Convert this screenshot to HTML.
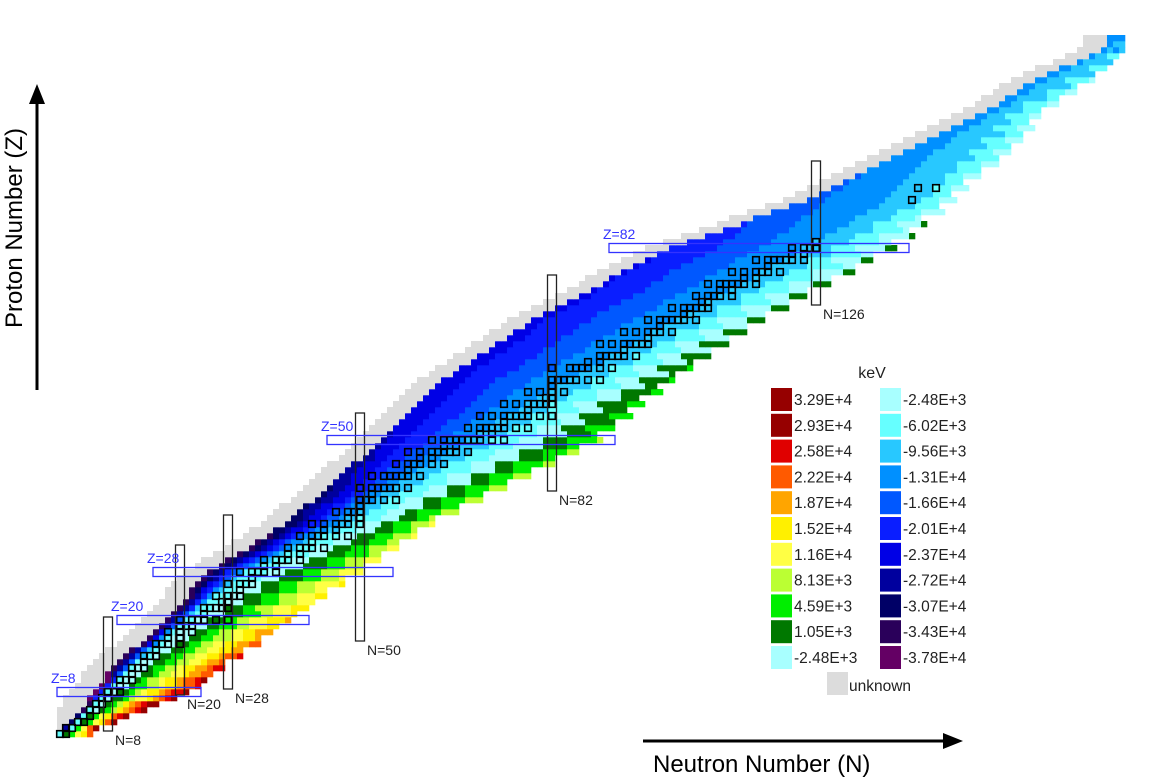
<!DOCTYPE html>
<html><head><meta charset="utf-8"><style>
html,body{margin:0;padding:0;background:#fff;width:1149px;height:777px;overflow:hidden}
svg{display:block;font-family:"Liberation Sans",sans-serif}
</style></head><body>
<svg id="chart" width="1149" height="777" viewBox="0 0 1149 777">
<g id="bandfills"></g><g id="cells"></g><g id="stable"></g><g id="bands"></g>
<g id="axes">
<line x1="37" y1="390" x2="37" y2="100" stroke="#000" stroke-width="3"/>
<polygon points="37,84 29,104 45,104" fill="#000"/>
<text transform="translate(22,228) rotate(-90)" text-anchor="middle" font-size="24" fill="#000">Proton Number (Z)</text>
<line x1="643" y1="741" x2="946" y2="741" stroke="#000" stroke-width="3"/>
<polygon points="963,741 943,733 943,749" fill="#000"/>
<text x="653" y="772" font-size="24" fill="#000">Neutron Number (N)</text>
</g>
<g id="legend"></g>
</svg>
<script>
const zAnch =  [1,2,5,8,12,20,28,36,50,60,70,82,90,100,105,110,115,117];
const nMinA =  [0,1,4,6,9,18,25,38,54,64,79,102,125,145,155,163,174,175];
const nMaxA =  [5,6,14,21,27,38,50,62,90,102,117,139,149,160,164,172,177,177];
const nStabA = [0,2,5,8,12,21,31,47,68,84,102,124,142,152,158,166,175,176];
const vLeftA = [-2e4,-2.5e4,-3.2e4,-3.6e4,-3.4e4,-3.4e4,-3.4e4,-3e4,-2.4e4,-2.2e4,-2.1e4,-2.0e4,-1.4e4,-1.2e4,-1.15e4,-1.1e4,-1.05e4,-1.05e4];
const vStabA = [-4e3,-4e3,-4e3,-4e3,-4e3,-4.5e3,-6e3,-7.5e3,-9.5e3,-1e4,-1e4,-9.5e3,-8e3,-7e3,-7e3,-7.5e3,-9e3,-1e4];
const vRightA= [2.5e4,3e4,3.3e4,3e4,2.6e4,1.8e4,1.3e4,1e4,7e3,3.5e3,1.5e3,0,-1.5e3,-3e3,-3e3,-4e3,-8e3,-9e3];
const oddZTrim = [0,0,0,0,1,1,2,2,2,2,2,2,2,1,1,1,0,0];
const stableList = {1:[0,1],2:[1,2],3:[3,4],4:[5],5:[5,6],6:[6,7],7:[7,8],8:[8,9,10],9:[10],10:[10,11,12],11:[12],12:[12,13,14],13:[14],14:[14,15,16],15:[16],16:[16,17,18,20],17:[18,20],18:[18,20,22],19:[20,21,22],20:[20,22,23,24,26,28],21:[24],22:[24,25,26,27,28],23:[27,28],24:[26,28,29,30],25:[30],26:[28,30,31,32],27:[32],28:[30,32,33,34,36],29:[34,36],30:[34,36,37,38,40],31:[38,40],32:[38,40,41,42,44],33:[42],34:[40,42,43,44,46,48],35:[44,46],36:[42,44,46,47,48,50],37:[48,50],38:[46,48,49,50],39:[50],40:[50,51,52,54,56],41:[52],42:[50,52,53,54,55,56,58],44:[52,54,55,56,57,58,60],45:[58],46:[56,58,59,60,62,64],47:[60,62],48:[58,60,62,63,64,65,66,68],49:[64,66],50:[62,64,65,66,67,68,69,70,72,74],51:[70,72],52:[68,70,71,72,73,74,76,78],53:[74],54:[70,72,74,75,76,77,78,80,82],55:[78],56:[74,76,78,79,80,81,82],57:[81,82],58:[78,80,82,84],59:[82],60:[82,83,84,85,86,88,90],62:[82,85,86,87,88,90,92],63:[88,90],64:[90,91,92,93,94,96],65:[94],66:[90,92,94,95,96,97,98],67:[98],68:[94,96,98,99,100,102],69:[100],70:[98,100,101,102,103,104,106],71:[104,105],72:[102,104,105,106,107,108],73:[107,108],74:[106,108,109,110,112],75:[110,112],76:[108,110,111,112,113,114,116],77:[114,116],78:[112,114,116,117,118,120],79:[118],80:[116,118,119,120,121,122,124],81:[122,124],82:[122,124,125,126],83:[126],90:[142],92:[143,146]};
const legThr = [3.29e4,2.93e4,2.58e4,2.22e4,1.87e4,1.52e4,1.16e4,8.13e3,4.59e3,1.05e3,-2.48e3,-6.02e3,-9.56e3,-1.31e4,-1.66e4,-2.01e4,-2.37e4,-2.72e4,-3.07e4,-3.43e4,-3.78e4];
const legCol = ["#960000","#960000","#e00000","#ff5a00","#ffa500","#fff000","#ffff44","#bbff33","#00ee00","#007800","#a8ffff","#66ffff","#28c8ff","#0090ff","#0058ff","#0a1eff","#0000e6","#00009e","#000066","#2a005a","#640064"];
const legLabels1 = ["3.29E+4","2.93E+4","2.58E+4","2.22E+4","1.87E+4","1.52E+4","1.16E+4","8.13E+3","4.59E+3","1.05E+3","-2.48E+3"];
const legLabels2 = ["-2.48E+3","-6.02E+3","-9.56E+3","-1.31E+4","-1.66E+4","-2.01E+4","-2.37E+4","-2.72E+4","-3.07E+4","-3.43E+4","-3.78E+4"];
const legColors1 = ["#960000","#960000","#e00000","#ff5a00","#ffa500","#fff000","#ffff44","#bbff33","#00ee00","#007800","#a8ffff"];
const legColors2 = ["#a8ffff","#66ffff","#28c8ff","#0090ff","#0058ff","#0a1eff","#0000e6","#00009e","#000066","#2a005a","#640064"];
const nMagic = [8,20,28,50,82,126];
const nMagicZ = [[1,20],[7,32],[8,37],[16,54],[41,77],[72,96]];
const zMagic = [8,20,28,50,82];
const zMagicN = [[0,24],[10,42],[16,56],[45,93],[92,142]];

const NS="http://www.w3.org/2000/svg";
const C=6;
function xN(n){return 57+C*n;}
function yZ(z){return 737-C*z;}
function mk(t,a,p){const e=document.createElementNS(NS,t);for(const k in a)e.setAttribute(k,a[k]);p.appendChild(e);return e;}
function interp(arr,z){
  for(let i=0;i<zAnch.length-1;i++){if(z>=zAnch[i]&&z<=zAnch[i+1]){const t=(z-zAnch[i])/(zAnch[i+1]-zAnch[i]);return arr[i]+t*(arr[i+1]-arr[i]);}}
  return arr[arr.length-1];
}
function color(v){for(let i=0;i<legThr.length-1;i++){if(v>=legThr[i])return legCol[i];}return legCol[legCol.length-1];}

const bf=document.getElementById('bandfills'),cg=document.getElementById('cells'),sg=document.getElementById('stable'),bg=document.getElementById('bands'),lg=document.getElementById('legend');
nMagic.forEach((n,i)=>{mk('rect',{x:xN(n)-1.5,y:yZ(nMagicZ[i][1]),width:C+3,height:(nMagicZ[i][1]-nMagicZ[i][0])*C,fill:'#fff'},bf);});
zMagic.forEach((z,i)=>{mk('rect',{x:xN(zMagicN[i][0]),y:yZ(z)-1.5,width:(zMagicN[i][1]-zMagicN[i][0])*C,height:C+3,fill:'#fff'},bf);});
for(let z=1;z<=117;z++){
  const odd=z%2===1;
  const nmin=Math.round(interp(nMinA,z));
  const nmax=Math.round(interp(nMaxA,z))-(odd?Math.round(interp(oddZTrim,z)):0);
  const ns=interp(nStabA,z);
  const vl=interp(vLeftA,z),vs=interp(vStabA,z),vr=interp(vRightA,z);
  const g=mk('g',{},cg);
  
  
  for(let k=1;k<=4;k++){const n=nmin-k;if(n<0)continue;
    const r=mk('rect',{x:xN(n),y:yZ(z),width:C+0.3,height:C+0.3,fill:'#dcdcdc'},g);
    
    }
  for(let n=nmin;n<=nmax;n++){
    let v;
    if(n<=ns){const t=(ns-n)/Math.max(1,ns-nmin);v=vs+t*(vl-vs);}
    else{const t=(n-ns)/Math.max(1,nmax-ns);v=vs+t*(vr-vs);v+=(odd?-1500:1800)*Math.min(1,t*1.5);}
    const r=mk('rect',{x:xN(n),y:yZ(z),width:C+0.3,height:C+0.3,fill:color(v)},g);
    
    
  }
}
for(const z in stableList){stableList[z].forEach(n=>{
  const r=mk('rect',{x:xN(n)-0.3,y:yZ(+z)-0.3,width:C+0.6,height:C+0.6,fill:'none',stroke:'#000','stroke-width':1.6},sg);
  
  
});}
nMagic.forEach((n,i)=>{
  const r=mk('rect',{x:xN(n)-1.5,y:yZ(nMagicZ[i][1]),width:C+3,height:(nMagicZ[i][1]-nMagicZ[i][0])*C,fill:'none',stroke:'#222','stroke-width':1.3},bg);
  
  
  const t=mk('text',{x:xN(n)+C+4,y:yZ(nMagicZ[i][0])+14,'font-size':14,fill:'#222'},bg);t.textContent='N='+n;
  
  
});
zMagic.forEach((z,i)=>{
  const r=mk('rect',{x:xN(zMagicN[i][0]),y:yZ(z)-1.5,width:(zMagicN[i][1]-zMagicN[i][0])*C,height:C+3,fill:'none',stroke:'#3333ff','stroke-width':1.3},bg);
  
  
  const t=mk('text',{x:xN(zMagicN[i][0])-6,y:yZ(z)-6,'font-size':14,fill:'#3333ff'},bg);t.textContent='Z='+z;
  
  
});
const kt=mk('text',{x:872,y:378,'font-size':16,fill:'#222','text-anchor':'middle'},lg);kt.textContent='keV';


for(let i=0;i<11;i++){
  const y=388+i*25.8;
  const s1=mk('rect',{x:771,y:y,width:21,height:23,fill:legColors1[i]},lg);
  
  
  const t1=mk('text',{x:794,y:y+17,'font-size':15.5,fill:'#222'},lg);t1.textContent=legLabels1[i];
  
  
  const s2=mk('rect',{x:880,y:y,width:21,height:23,fill:legColors2[i]},lg);
  
  
  const t2=mk('text',{x:903,y:y+17,'font-size':15.5,fill:'#222'},lg);t2.textContent=legLabels2[i];
  
  
}
const us=mk('rect',{x:827,y:672,width:21,height:23,fill:'#dcdcdc'},lg);


const ut=mk('text',{x:849,y:691,'font-size':15.5,fill:'#222'},lg);ut.textContent='unknown';


</script>
</body></html>
